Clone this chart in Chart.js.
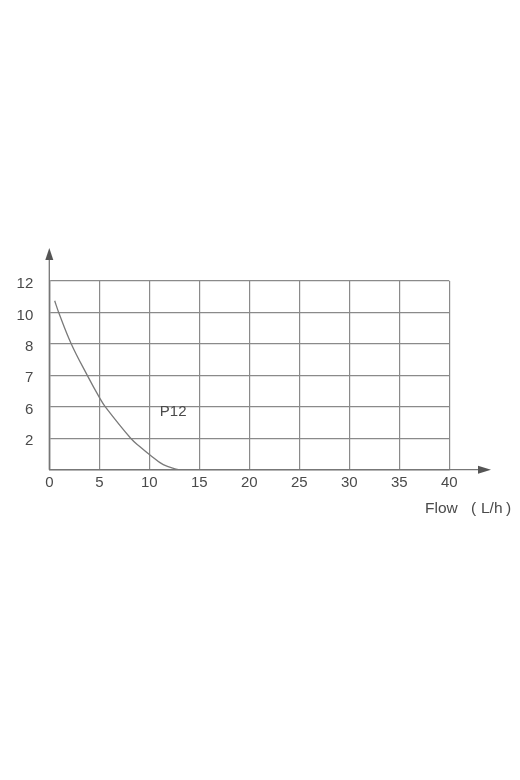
<!DOCTYPE html>
<html>
<head>
<meta charset="utf-8">
<script src="https://cdn.jsdelivr.net/npm/chart.js@4/dist/chart.umd.min.js"></script>
<style>
html,body{margin:0;padding:0;background:#fff;}
canvas{display:block;}
</style>
</head>
<body>
<canvas id="c" width="520" height="780"></canvas>
<script>
// ---- data ----
const xTickValues = [0, 5, 10, 15, 20, 25, 30, 35, 40];
const yTickLabels = ['', '2', '6', '7', '8', '10', '12'];
const flowValues  = [0.54, 0.94, 2.2, 3.8, 5.02, 5.6, 8.14, 9.07, 10.07, 11.4, 12.9];
const headValues  = [5.37, 5.0, 4.0, 3.0, 2.29, 2.0, 1.0, 0.73, 0.47, 0.16, 0.0];
const seriesName  = 'P12';
const seriesLabelPos = {x: 11.05, y: 1.85};
const xAxisTitleParts = ['Flow', '(', 'L/h', ')'];

const points = flowValues.map((v, i) => ({x: v, y: headValues[i]}));
const FONT = '"Liberation Sans", Arial, "Noto Sans CJK SC", sans-serif';
const TEXT = '#4a4a4a';
const GRID = '#8a8a8a';

const decor = {
  id: 'decor',
  afterDraw(chart) {
    const ctx = chart.ctx;
    const {left, bottom} = chart.chartArea;
    ctx.save();
    ctx.strokeStyle = '#777';
    ctx.fillStyle = '#555';
    ctx.lineWidth = 1.3;
    // x axis extension + arrow
    ctx.beginPath(); ctx.moveTo(left, bottom); ctx.lineTo(480, bottom); ctx.stroke();
    ctx.beginPath(); ctx.moveTo(478, bottom - 4); ctx.lineTo(491, bottom); ctx.lineTo(478, bottom + 4); ctx.closePath(); ctx.fill();
    // y axis extension + arrow
    ctx.beginPath(); ctx.moveTo(left, bottom); ctx.lineTo(left, 258); ctx.stroke();
    ctx.beginPath(); ctx.moveTo(left - 4, 260); ctx.lineTo(left, 248); ctx.lineTo(left + 4, 260); ctx.closePath(); ctx.fill();
    // series label
    const xs = chart.scales.x, ys = chart.scales.y;
    ctx.fillStyle = TEXT;
    ctx.font = '15px ' + FONT;
    ctx.textAlign = 'left';
    ctx.textBaseline = 'middle';
    ctx.fillText(seriesName, xs.getPixelForValue(seriesLabelPos.x), ys.getPixelForValue(seriesLabelPos.y));
    // axis title (spaced like the reference)
    ctx.font = '15.5px ' + FONT;
    const partX = [425, 471, 481, 506];
    xAxisTitleParts.forEach((t, i) => ctx.fillText(t, partX[i], 509));
    ctx.restore();
  }
};

new Chart(document.getElementById('c'), {
  type: 'line',
  data: {
    datasets: [{
      label: seriesName,
      data: points,
      borderColor: '#7a7a7a',
      borderWidth: 1.3,
      pointRadius: 0,
      fill: false,
      tension: 0.4
    }]
  },
  options: {
    responsive: false,
    animation: false,
    devicePixelRatio: 1,
    layout: {padding: {left: 0, top: 281, right: 70.7, bottom: 780 - 469.7 - 50}},
    plugins: {legend: {display: false}, tooltip: {enabled: false}},
    scales: {
      x: {
        type: 'linear',
        min: 0, max: 40,
        afterBuildTicks(scale) { scale.ticks = xTickValues.map(v => ({value: v})); },
        afterFit(scale) { scale.height = 50; },
        grid: {color: GRID, lineWidth: 1.2, drawTicks: false},
        border: {color: '#777', width: 1.3},
        ticks: {color: TEXT, font: {family: FONT, size: 15}, padding: 4, maxRotation: 0, autoSkip: false}
      },
      y: {
        type: 'linear',
        min: 0, max: 6,
        afterBuildTicks(scale) { scale.ticks = yTickLabels.map((l, i) => ({value: i})); },
        afterFit(scale) { scale.width = 49.3; },
        grid: {color: GRID, lineWidth: 1.2, drawTicks: false},
        border: {color: '#777', width: 1.3},
        ticks: {
          color: TEXT, font: {family: FONT, size: 15}, padding: 16, labelOffset: 3, autoSkip: false,
          callback: (v) => yTickLabels[v]
        }
      }
    }
  },
  plugins: [decor]
});
</script>
</body>
</html>
